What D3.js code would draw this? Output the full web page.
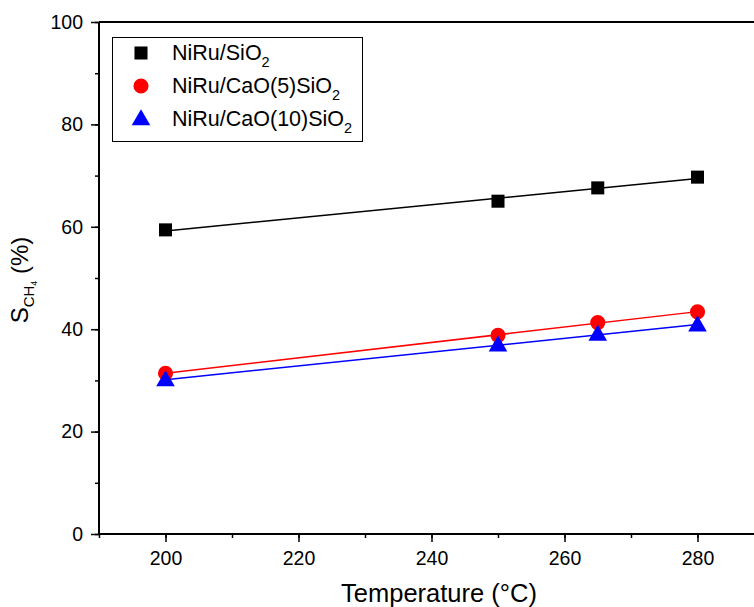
<!DOCTYPE html>
<html>
<head>
<meta charset="utf-8">
<script src="https://cdn.jsdelivr.net/npm/d3@7"></script>
<style>
  body { margin: 0; background: #fff; }
  text { font-family: "Liberation Sans", Arial, sans-serif; }
</style>
</head>
<body>
<script>
// temperatures (°C) and CH4 selectivity (%) per catalyst
var temps = [200, 250, 265, 280];
var niruSiO2 = [59.4, 65.0, 67.6, 69.7];
var niruCa5 = [31.4, 38.8, 41.3, 43.4];
var niruCa10 = [30.1, 36.9, 39.0, 40.8];
var xTicks = [200, 220, 240, 260, 280];
var yTicks = [0, 20, 40, 60, 80, 100];

var series = [
  {name: "NiRu/SiO", sub: "2", vals: niruSiO2, color: "#000", shape: d3.symbolSquare},
  {name: "NiRu/CaO(5)SiO", sub: "2", vals: niruCa5, color: "#ff0000", shape: d3.symbolCircle},
  {name: "NiRu/CaO(10)SiO", sub: "2", vals: niruCa10, color: "#0000ff", shape: d3.symbolTriangle}
];

var width = 754, height = 607;
var margin = {left: 99, top: 22, bottom: 73};

var svg = d3.select("body").append("svg")
  .attr("width", width)
  .attr("height", height);

var x = d3.scaleLinear().domain([190, 290]).range([margin.left, margin.left + 665]);
var y = d3.scaleLinear().domain([0, 100]).range([height - margin.bottom, margin.top]);

// x axis with minor ticks
svg.append("g")
  .attr("transform", "translate(0," + y(0) + ")")
  .call(d3.axisBottom(x).tickValues(d3.range(190, 291, 10)).tickSize(4).tickFormat(""))
  .call(function(g){ g.select(".domain").remove(); g.selectAll("line").attr("stroke-width", 1.5); });
svg.append("g")
  .attr("transform", "translate(0," + y(0) + ")")
  .call(d3.axisBottom(x).tickValues(xTicks).tickSize(8).tickPadding(9))
  .call(function(g){
    g.select(".domain").attr("stroke-width", 2).attr("d", "M" + x(190) + ",0H" + width);
    g.selectAll("line").attr("stroke-width", 1.5);
    g.selectAll("text").attr("font-size", 19.5).attr("fill", "#000").attr("font-family", "Liberation Sans, Arial, sans-serif");
  });

// y axis with minor ticks
svg.append("g")
  .attr("transform", "translate(" + x(190) + ",0)")
  .call(d3.axisLeft(y).tickValues(d3.range(0, 101, 10)).tickSize(4).tickFormat(""))
  .call(function(g){ g.select(".domain").remove(); g.selectAll("line").attr("stroke-width", 1.5); });
svg.append("g")
  .attr("transform", "translate(" + x(190) + ",0)")
  .call(d3.axisLeft(y).tickValues(yTicks).tickSize(8).tickPadding(8))
  .call(function(g){
    g.select(".domain").attr("stroke-width", 2).attr("d", "M0," + y(0) + "V" + y(100));
    g.selectAll("line").attr("stroke-width", 1.5);
    g.selectAll("text").attr("font-size", 19.5).attr("fill", "#000").attr("font-family", "Liberation Sans, Arial, sans-serif");
  });

// top frame line
svg.append("line")
  .attr("x1", x(190)).attr("x2", width)
  .attr("y1", y(100)).attr("y2", y(100))
  .attr("stroke", "#000").attr("stroke-width", 2);

// linear fit lines
function fit(xs, ys){
  var mx = d3.mean(xs), my = d3.mean(ys);
  var num = d3.sum(xs, function(v, i){ return (v - mx) * (ys[i] - my); });
  var den = d3.sum(xs, function(v){ return (v - mx) * (v - mx); });
  var b = num / den;
  return function(v){ return my + b * (v - mx); };
}

series.forEach(function(s){
  var f = fit(temps, s.vals);
  var x0 = d3.min(temps), x1 = d3.max(temps);
  svg.append("line")
    .attr("x1", x(x0)).attr("y1", y(f(x0)))
    .attr("x2", x(x1)).attr("y2", y(f(x1)))
    .attr("stroke", s.color).attr("stroke-width", 1.5);
});

function symSize(s){
  if (s.shape === d3.symbolSquare) return 170;
  if (s.shape === d3.symbolCircle) return 180;
  return 150;
}

series.forEach(function(s){
  svg.selectAll(null)
    .data(temps)
    .enter()
    .append("path")
    .attr("d", d3.symbol().type(s.shape).size(symSize(s)))
    .attr("transform", function(d, i){
      var dy = s.shape === d3.symbolTriangle ? 1 : 0;
      return "translate(" + x(d) + "," + (y(s.vals[i]) + dy) + ")";
    })
    .attr("fill", s.color);
});

// legend
var lg = svg.append("g");
lg.append("rect")
  .attr("x", 112.5).attr("y", 37.5).attr("width", 250).attr("height", 104)
  .attr("fill", "none").attr("stroke", "#000").attr("stroke-width", 1);
series.forEach(function(s, i){
  var cy = 53 + i * 33;
  lg.append("path")
    .attr("d", d3.symbol().type(s.shape).size(symSize(s)))
    .attr("transform", "translate(141," + (cy + (s.shape === d3.symbolTriangle ? 1 : 0)) + ")")
    .attr("fill", s.color);
  var t = lg.append("text")
    .attr("x", 172).attr("y", cy + 7)
    .attr("font-size", 21.5).attr("fill", "#000");
  t.append("tspan").text(s.name);
  t.append("tspan").attr("font-size", 14.5).attr("dy", 7).text(s.sub);
});

// axis titles
svg.append("text")
  .attr("x", 439).attr("y", 602)
  .attr("text-anchor", "middle")
  .attr("font-size", 25.5).attr("fill", "#000")
  .text("Temperature (°C)");

var yt = svg.append("text")
  .attr("transform", "translate(28," + 280 + ") rotate(-90)")
  .attr("text-anchor", "middle")
  .attr("font-size", 24).attr("fill", "#000");
yt.append("tspan").text("S");
yt.append("tspan").attr("font-size", 15).attr("dy", 6).text("CH");
yt.append("tspan").attr("font-size", 9).attr("dy", 3).text("4");
yt.append("tspan").attr("dy", -9).text(" (%)");
</script>
</body>
</html>
